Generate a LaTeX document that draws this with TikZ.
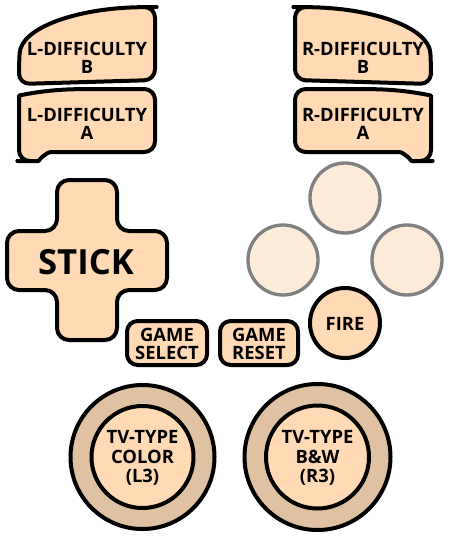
\documentclass[tikz,border=0pt]{standalone}
\usepackage{fontspec}
\setmainfont{Open Sans}
\usetikzlibrary{shadows}
\definecolor{peach}{RGB}{255,218,180}
\definecolor{paleface}{RGB}{253,235,218}
\definecolor{ringtan}{RGB}{224,194,163}

\begin{document}
\begin{tikzpicture}[x=0.75pt, y=-0.75pt, line join=round,
  pad/.style={draw=black, line width=3pt, fill=peach,
    drop shadow={opacity=0.2, shadow xshift=0pt, shadow yshift=-1.5pt}},
  face/.style={draw=gray, line width=2.5pt, fill=paleface},
  lbl/.style={font=\fontsize{13.8}{13.4}\selectfont\bfseries, align=center, inner sep=0pt},
  diffb/.pic={\draw[pad, rounded corners=8] (19,64) .. controls (21,28) and (75,9) .. (146,7)
    -- (155,7) -- (155,80) -- (19,84) -- cycle;},
  diffa/.pic={\draw[pad, rounded corners=8] (19,161) -- (19,106) .. controls (19,96) and (40,90) .. (85,89)
    -- (155,89) -- (155,152) -- (62,152) .. controls (46,152) and (38,161) .. (28,161) -- cycle;}]
  \useasboundingbox (0,0) rectangle (450,540);
  % shoulder switches
  \pic at (0,0) {diffb};
  \pic at (0,0) {diffa};
  \pic[xscale=-1] at (450,0) {diffb};
  \pic[xscale=-1] at (450,0) {diffa};
  \node[lbl] (ldb) at (87,57.5) {L-DIFFICULTY\\B};
  \node[lbl] (lda) at (87,124) {L-DIFFICULTY\\A};
  \node[lbl] (rdb) at (363,57.5) {R-DIFFICULTY\\B};
  \node[lbl] (rda) at (363,124) {R-DIFFICULTY\\A};
  % stick
  \draw[pad, rounded corners=9] (57,180) -- (117,180) -- (117,231) -- (167,231) -- (167,290)
    -- (117,290) -- (117,340) -- (57,340) -- (57,290) -- (7,290) -- (7,231) -- (57,231) -- cycle;
  \node[lbl, font=\fontsize{26}{28}\selectfont\bfseries] (stick) at (86,262) {STICK};
  % face buttons
  \draw[face] (345,198) circle (35);
  \draw[face] (283,260) circle (35);
  \draw[face] (407,260) circle (35);
  \draw[pad] (345,323) circle (35);
  \node[lbl] (fire) at (345,324) {FIRE};
  % select / reset
  \draw[pad, rounded corners=8] (127,321) rectangle (207,365);
  \draw[pad, rounded corners=8] (220,321) rectangle (298,365);
  \node[lbl] (select) at (167,344) {GAME\\SELECT};
  \node[lbl] (reset) at (259,344) {GAME\\RESET};
  % sticks L3 / R3
  \draw[pad, fill=ringtan] (142.5,457) circle (72);
  \draw[pad] (142.5,457) circle (51);
  \draw[pad, fill=ringtan] (317.5,457) circle (73);
  \draw[pad] (317.5,457) circle (51.5);
  \node[lbl, font=\fontsize{13.8}{14.6}\selectfont\bfseries] (lthree) at (142.5,458) {TV-TYPE\\COLOR\\(L3)};
  \node[lbl, font=\fontsize{13.8}{14.6}\selectfont\bfseries] (rthree) at (317.5,458) {TV-TYPE\\B\&W\\(R3)};
\end{tikzpicture}
\end{document}
